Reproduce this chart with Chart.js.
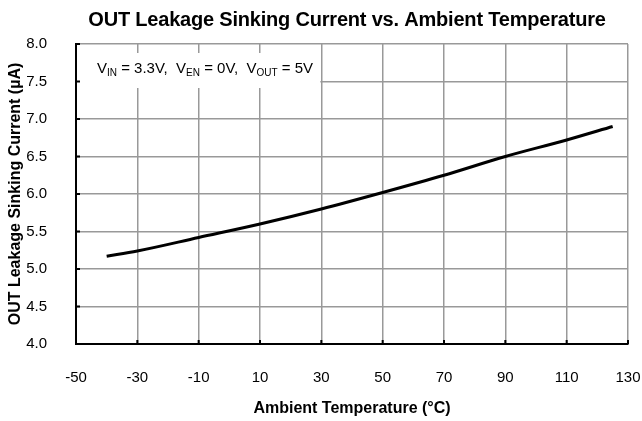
<!DOCTYPE html>
<html>
<head>
<meta charset="utf-8">
<script src="https://cdn.jsdelivr.net/npm/chart.js@4.4.0/dist/chart.umd.min.js"></script>
<style>
  html, body { margin: 0; padding: 0; background: #fff; }
  #wrap { width: 642px; height: 421px; }
</style>
</head>
<body>
<div id="wrap"><canvas id="chartContainer" width="642" height="421"></canvas></div>
<script>
// values
const temps = [-40, -30, -10, 10, 30, 50, 70, 90, 110, 125];
const current = [5.17, 5.24, 5.42, 5.60, 5.80, 6.02, 6.25, 6.50, 6.72, 6.90];
const xTicks = [-50, -30, -10, 10, 30, 50, 70, 90, 110, 130];
const yTicks = [4.0, 4.5, 5.0, 5.5, 6.0, 6.5, 7.0, 7.5, 8.0];
const chartTitle = 'OUT Leakage Sinking Current vs. Ambient Temperature';

const FONT = "'Liberation Sans', Arial, sans-serif";

// title drawn over the plot (chart.js would centre it on the canvas)
const topTitle = {
    id: 'topTitle',
    afterDraw(chart) {
        const ctx = chart.ctx;
        const a = chart.chartArea;
        ctx.save();
        ctx.fillStyle = '#000';
        ctx.font = 'bold 20px ' + FONT;
        ctx.letterSpacing = '-0.2px';
        ctx.textAlign = 'center';
        ctx.textBaseline = 'alphabetic';
        ctx.fillText(chartTitle, (a.left + a.right) / 2 - 5, 26);
        ctx.restore();
    }
};

// white box with the test conditions, top left of the plot
const condBox = {
    id: 'condBox',
    beforeDatasetsDraw(chart) {
        const ctx = chart.ctx;
        const a = chart.chartArea;
        const xs = chart.scales.x;
        const right = xs.getPixelForValue(30) - 1;
        ctx.save();
        ctx.fillStyle = '#fff';
        ctx.fillRect(a.left + 1, a.top + 9, right - a.left - 1, 35);
        ctx.fillStyle = '#000';
        ctx.textBaseline = 'alphabetic';
        let x = a.left + 21;
        const y = a.top + 29;
        const parts = [
            ['V', 15, 0], ['IN', 10, 3], [' = 3.3V,  ', 15, 0],
            ['V', 15, 0], ['EN', 10, 3], [' = 0V,  ', 15, 0],
            ['V', 15, 0], ['OUT', 10, 3], [' = 5V', 15, 0]
        ];
        parts.forEach(function (p) {
            ctx.font = p[1] + 'px ' + FONT;
            ctx.fillText(p[0], x, y + p[2]);
            x += ctx.measureText(p[0]).width;
        });
        ctx.restore();
    }
};

// small inward tick marks on the left and bottom axes
const innerTicks = {
    id: 'innerTicks',
    afterDraw(chart) {
        const ctx = chart.ctx;
        const a = chart.chartArea;
        ctx.save();
        ctx.strokeStyle = '#000';
        ctx.lineWidth = 2;
        ctx.beginPath();
        yTicks.forEach(function (v) {
            const py = chart.scales.y.getPixelForValue(v);
            ctx.moveTo(a.left, py);
            ctx.lineTo(a.left + 4, py);
        });
        xTicks.forEach(function (v) {
            const px = chart.scales.x.getPixelForValue(v);
            ctx.moveTo(px, a.bottom);
            ctx.lineTo(px, a.bottom - 4);
        });
        ctx.stroke();
        ctx.restore();
    }
};

const data = {
    datasets: [{
        label: 'IOUT leakage',
        data: temps.map(function (t, i) { return { x: t, y: current[i] }; }),
        borderColor: '#000',
        backgroundColor: '#000',
        borderWidth: 3,
        pointRadius: 0,
        cubicInterpolationMode: 'monotone',
        fill: false
    }]
};

const config = {
    type: 'line',
    data: data,
    options: {
        responsive: false,
        animation: false,
        layout: { padding: { left: 0, right: 14, top: 44, bottom: 0 } },
        plugins: {
            legend: { display: false },
            tooltip: { enabled: false },
            title: { display: false }
        },
        scales: {
            x: {
                type: 'linear',
                min: -50,
                max: 130,
                afterBuildTicks: function (s) { s.ticks = xTicks.map(function (v) { return { value: v }; }); },
                afterFit: function (s) { s.height = 77; s.paddingLeft = 0; s.paddingRight = 0; },
                grid: { color: '#999', lineWidth: 1.5, drawTicks: false },
                border: { color: '#000', width: 2 },
                ticks: {
                    color: '#000',
                    padding: 25,
                    maxRotation: 0,
                    font: { family: FONT, size: 15 }
                },
                title: {
                    display: true,
                    text: 'Ambient Temperature (°C)',
                    color: '#000',
                    font: { family: FONT, size: 16, weight: 'bold' },
                    padding: { top: 0, bottom: 3 }
                }
            },
            y: {
                min: 4,
                max: 8,
                afterBuildTicks: function (s) { s.ticks = yTicks.map(function (v) { return { value: v }; }); },
                afterFit: function (s) { s.width = 76; s.paddingTop = 0; s.paddingBottom = 0; },
                grid: { color: '#999', lineWidth: 1.5, drawTicks: false },
                border: { color: '#000', width: 2 },
                ticks: {
                    color: '#000',
                    padding: 29,
                    font: { family: FONT, size: 15 },
                    callback: function (v) { return Number(v).toFixed(1); }
                },
                title: {
                    display: true,
                    text: 'OUT Leakage Sinking Current (µA)',
                    color: '#000',
                    font: { family: FONT, size: 16, weight: 'bold' },
                    padding: { top: 6, bottom: 0 }
                }
            }
        }
    },
    plugins: [topTitle, condBox, innerTicks]
};

window.onload = function () {
    new Chart(document.getElementById('chartContainer'), config);
};
</script>
</body>
</html>
